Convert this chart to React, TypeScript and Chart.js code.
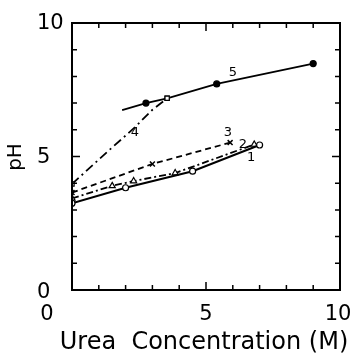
import React, { useEffect, useRef } from "react";
import { Chart, registerables } from "chart.js";
Chart.register(...registerables);

// Series 1: solid, open circles
const s1X = [0, 2.0, 4.5, 7.0];
const s1Y = [3.25, 3.83, 4.45, 5.43];
// Series 2: dash-dot, open triangles
const s2X = [0, 1.5, 2.3, 3.85, 6.8];
const s2Y = [3.43, 3.9, 4.08, 4.38, 5.45];
// Series 3: dashed, crosses
const s3X = [0, 3.0, 5.9];
const s3Y = [3.65, 4.72, 5.52];
// Series 4: long dash-dot, open squares at ends
const s4X = [0, 1.4, 2.3, 3.0, 3.35, 3.55];
const s4Y = [3.97, 5.25, 6.05, 6.75, 7.02, 7.18];
// Series 5: solid, filled dots
const s5X = [1.87, 2.76, 3.55, 5.4, 9.0];
const s5Y = [6.74, 7.0, 7.18, 7.72, 8.48];

const curveNames = ["1", "2", "3", "4", "5"];
const curveNameX = [6.68, 6.38, 5.82, 2.35, 6.0];
const curveNameY = [4.94, 5.43, 5.9, 5.88, 8.16];

const xTickLabels = [0, 5, 10];
const yTickLabels = [0, 5, 10];
const minorTicks = [1, 2, 3, 4, 5, 6, 7, 8, 9];
const xTitle = "Urea  Concentration (M)";
const yTitle = "pH";

const FONT = "DejaVu Sans";

const pts = (xs: number[], ys: number[]) => xs.map((x, i) => ({ x, y: ys[i] }));

const framePlugin = {
  id: "frame",
  afterDraw(chart: any) {
    const ctx = chart.ctx;
    const { left, right, top, bottom } = chart.chartArea;
    const xs = chart.scales.x;
    const ys = chart.scales.y;
    ctx.save();
    ctx.strokeStyle = "#000";
    ctx.lineWidth = 2;
    ctx.strokeRect(left, top, right - left, bottom - top);
    ctx.lineWidth = 1.5;
    ctx.beginPath();
    for (const v of minorTicks) {
      const len = v === 5 ? 8 : 5;
      const px = xs.getPixelForValue(v);
      ctx.moveTo(px, bottom);
      ctx.lineTo(px, bottom - len);
      ctx.moveTo(px, top);
      ctx.lineTo(px, top + len);
      const py = ys.getPixelForValue(v);
      ctx.moveTo(left, py);
      ctx.lineTo(left + len, py);
      ctx.moveTo(right, py);
      ctx.lineTo(right - len, py);
    }
    ctx.stroke();

    ctx.fillStyle = "#000";
    ctx.font = `21px "${FONT}"`;
    ctx.textBaseline = "middle";
    ctx.textAlign = "center";
    xTickLabels.forEach((v, i) => {
      const shift = i === 0 ? -25 : i === xTickLabels.length - 1 ? -2 : 0;
      ctx.fillText(String(v), xs.getPixelForValue(v) + shift, 315);
    });
    ctx.textAlign = "left";
    yTickLabels.forEach((v, i) => {
      const shift = i === 0 ? 3 : 1;
      ctx.fillText(String(v), 37, ys.getPixelForValue(v) + shift);
    });

    ctx.font = `24px "${FONT}"`;
    ctx.textAlign = "center";
    ctx.fillText(xTitle, 204, 343);

    ctx.save();
    ctx.translate(16, 157);
    ctx.rotate(-Math.PI / 2);
    ctx.font = `20px "${FONT}"`;
    ctx.fillText(yTitle, 0, 0);
    ctx.restore();

    ctx.font = `13px "${FONT}"`;
    ctx.textAlign = "center";
    curveNames.forEach((n, i) => {
      ctx.fillText(n, xs.getPixelForValue(curveNameX[i]), ys.getPixelForValue(curveNameY[i]));
    });
    ctx.restore();
  },
};

export default function App() {
  const ref = useRef<HTMLCanvasElement>(null);
  useEffect(() => {
    if (!ref.current) return;
    const chart = new Chart(ref.current, {
      type: "line",
      data: {
        datasets: [
          {
            data: pts(s1X, s1Y),
            borderColor: "#000",
            borderWidth: 2,
            pointStyle: "circle",
            pointRadius: 3,
            pointBackgroundColor: "#fff",
            pointBorderColor: "#000",
            pointBorderWidth: 1.2,
          },
          {
            data: pts(s2X, s2Y),
            borderColor: "#000",
            borderWidth: 1.8,
            borderDash: [7, 3, 2, 3],
            pointStyle: "triangle",
            pointRadius: 3.5,
            pointBackgroundColor: "#fff",
            pointBorderColor: "#000",
            pointBorderWidth: 1.2,
          },
          {
            data: pts(s3X, s3Y),
            borderColor: "#000",
            borderWidth: 1.8,
            borderDash: [6, 4],
            pointStyle: "crossRot",
            pointRadius: 3.5,
            pointBorderColor: "#000",
            pointBorderWidth: 1.5,
          },
          {
            data: pts(s4X, s4Y),
            borderColor: "#000",
            borderWidth: 1.8,
            borderDash: [9, 4, 2, 4],
            pointStyle: "rect",
            pointRadius: s4X.map((_, i) => (i === 0 || i === s4X.length - 1 ? 3 : 0)),
            pointBackgroundColor: "#fff",
            pointBorderColor: "#000",
            pointBorderWidth: 1.2,
          },
          {
            data: pts(s5X, s5Y),
            borderColor: "#000",
            borderWidth: 1.8,
            pointStyle: s5X.map((_, i) => (i === 2 ? "rect" : "circle")),
            pointRadius: s5X.map((_, i) => (i === 0 ? 0 : 3)),
            pointBackgroundColor: s5X.map((_, i) => (i === 2 ? "#fff" : "#000")),
            pointBorderColor: "#000",
            pointBorderWidth: 1.2,
          },
        ],
      },
      options: {
        animation: false,
        responsive: false,
        events: [],
        layout: { padding: { top: 23, right: 15, left: 0, bottom: 0 } },
        plugins: { legend: { display: false }, tooltip: { enabled: false } },
        elements: { line: { tension: 0 } },
        scales: {
          x: {
            type: "linear",
            min: 0,
            max: 10,
            grid: { display: false },
            border: { display: false },
            ticks: { display: false },
            title: { display: false },
            afterFit: (s: any) => {
              s.height = 65;
            },
          },
          y: {
            type: "linear",
            min: 0,
            max: 10,
            grid: { display: false },
            border: { display: false },
            ticks: { display: false },
            title: { display: false },
            afterFit: (s: any) => {
              s.width = 72;
            },
          },
        },
      },
      plugins: [framePlugin],
    });
    return () => chart.destroy();
  }, []);
  return (
    <div style={{ position: "absolute", left: 0, top: 0, width: 355, height: 355, background: "#fff" }}>
      <canvas ref={ref} width={355} height={355} />
    </div>
  );
}
